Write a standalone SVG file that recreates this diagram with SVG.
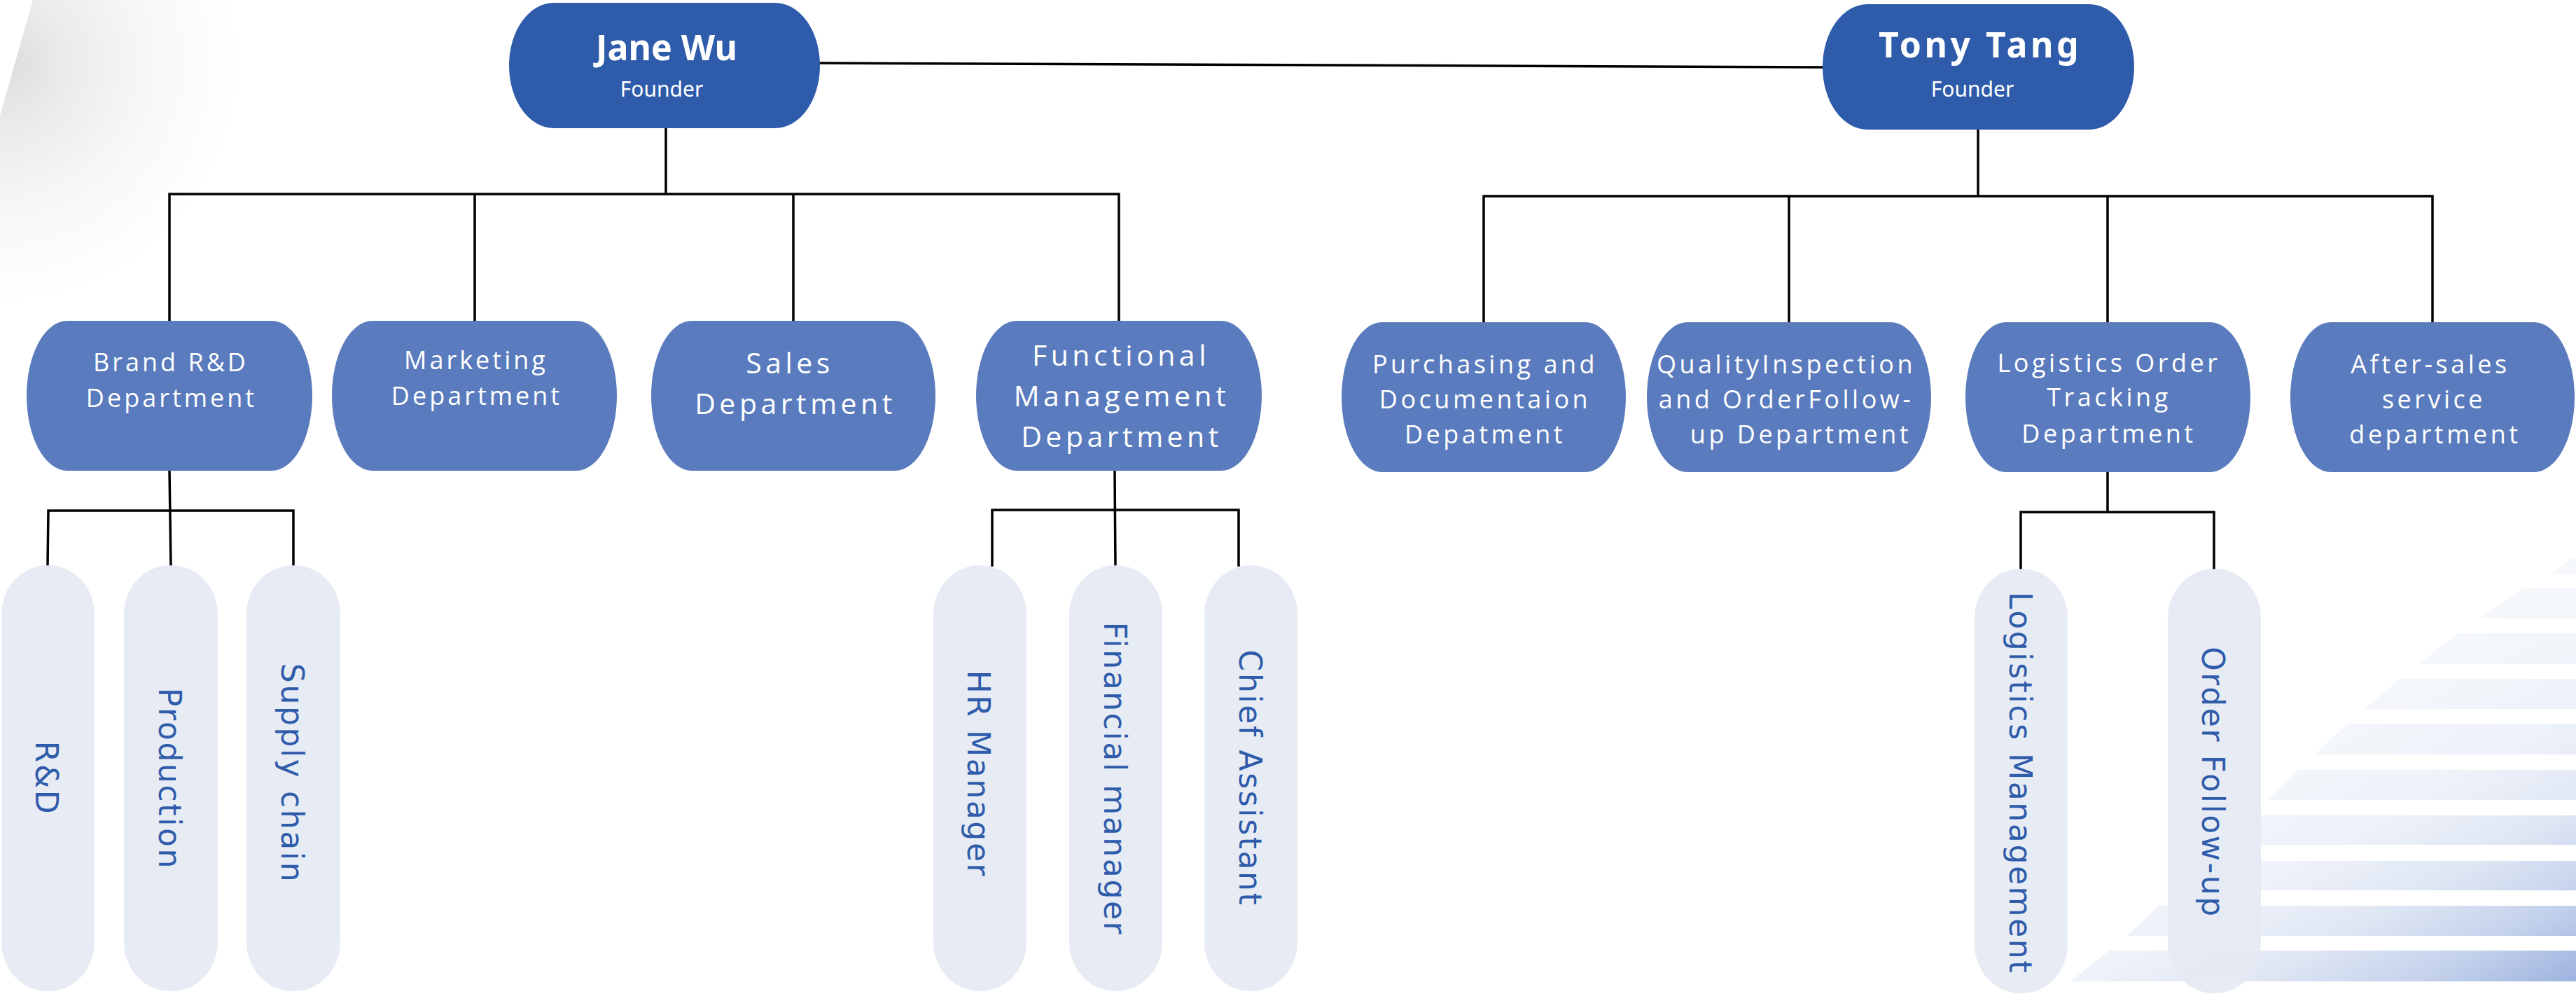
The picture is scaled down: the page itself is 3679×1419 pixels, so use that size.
<svg xmlns="http://www.w3.org/2000/svg" width="3679" height="1419" viewBox="0 0 3679 1419">
<defs>
<radialGradient id="grayFade" gradientUnits="userSpaceOnUse" cx="0" cy="90" r="380">
<stop offset="0" stop-color="#DCDCDC"/>
<stop offset="0.25" stop-color="#EBEBEB"/>
<stop offset="0.55" stop-color="#F7F7F7"/>
<stop offset="0.9" stop-color="#FFFFFF"/>
</radialGradient>
<linearGradient id="stripeFade" gradientUnits="userSpaceOnUse" x1="3400" y1="900" x2="3679" y2="1410">
<stop offset="0" stop-color="#F7F9FC"/>
<stop offset="0.4" stop-color="#EEF2F9"/>
<stop offset="0.6" stop-color="#E0E7F4"/>
<stop offset="0.8" stop-color="#C5D2EC"/>
<stop offset="1" stop-color="#9AB0DD"/>
</linearGradient>
<style>
.top{fill:#2E5BAA}
.dept{fill:#5A7BBD}
.sub{fill:#E4E9F3;fill-opacity:0.9}
.name{font-family:"Noto Sans","Open Sans",sans-serif;font-weight:700;font-size:50px;fill:#FFFFFF;text-anchor:middle}
.role{font-family:"Noto Sans","Open Sans",sans-serif;font-size:30px;fill:#FFFFFF;text-anchor:middle}
.dt{font-family:"Open Sans","Noto Sans",sans-serif;font-size:36px;letter-spacing:4px;fill:#FFFFFF;text-anchor:middle}
.dtl{font-family:"Open Sans","Noto Sans",sans-serif;font-size:41px;letter-spacing:5.5px;fill:#FFFFFF;text-anchor:middle}
.dtr{font-family:"Open Sans","Noto Sans",sans-serif;font-size:36px;letter-spacing:4.5px;fill:#FFFFFF;text-anchor:middle}
.st{font-family:"DejaVu Sans","Liberation Sans",sans-serif;font-size:44px;letter-spacing:2.6px;fill:#2E5BAA;text-anchor:middle}
.ln{fill:none;stroke:#000000;stroke-width:3.5;stroke-linecap:square}
</style>
</defs>

<g id="background">
<path d="M47,0 L900,0 L0,1100 L0,165 Z" fill="url(#grayFade)"/>
<g fill="url(#stripeFade)">
<polygon points="3672,797 3679,797 3679,819 3643,819"/>
<polygon points="3605,839 3679,839 3679,883 3540,883"/>
<polygon points="3510,904 3679,904 3679,948 3454,948"/>
<polygon points="3427,969 3679,969 3679,1012 3377,1012"/>
<polygon points="3353,1033 3679,1033 3679,1077 3306,1077"/>
<polygon points="3281,1099 3679,1099 3679,1142 3238,1142"/>
<polygon points="3214,1164 3679,1164 3679,1206 3173,1206"/>
<polygon points="3147,1229 3679,1229 3679,1271 3106,1271"/>
<polygon points="3083,1293 3679,1293 3679,1336 3038,1336"/>
<polygon points="3012,1357 3679,1357 3679,1401 2957,1401"/>
</g>
</g>

<g id="connectors">
<path class="ln" d="M1170,90 L2603,96"/>
<path class="ln" d="M951,183 L951,277 M242,277 L1598,277 M242,277 L242,458 M678,277 L678,458 M1133,277 L1133,458 M1598,277 L1598,458"/>
<path class="ln" d="M2825,185 L2825,280 M2119,280 L3474,280 M2119,280 L2119,460 M2555,280 L2555,460 M3010,280 L3010,460 M3474,280 L3474,460"/>
<path class="ln" d="M242,672 L244,807 M69,729 L419,729 M69,729 L68,807 M419,729 L419,807"/>
<path class="ln" d="M1592,672 L1593,807 M1417,728 L1769,728 M1417,728 L1417,807 M1769,728 L1769,807"/>
<path class="ln" d="M3010,674 L3010,731 M2886,731 L3162,731 M2886,731 L2886,812 M3162,731 L3162,812"/>
</g>

<g id="node-jane">
<rect class="top" x="727" y="4" width="444" height="179" rx="64" ry="89"/>
<text class="name" x="952" y="86">Jane Wu</text>
<text class="role" x="945" y="138">Founder</text>
</g>
<g id="node-tony">
<rect class="top" x="2603" y="6" width="445" height="179" rx="64" ry="89"/>
<text class="name" x="2828" y="82" style="letter-spacing:4.5px">Tony Tang</text>
<text class="role" x="2817" y="138">Founder</text>
</g>

<g id="node-brand">
<rect class="dept" x="38" y="458" width="408" height="214" rx="58" ry="107"/>
<text class="dt" x="244" y="530">Brand R&amp;D</text>
<text class="dt" x="245" y="581">Department</text>
</g>
<g id="node-marketing">
<rect class="dept" x="474" y="458" width="407" height="214" rx="58" ry="107"/>
<text class="dt" x="680" y="527">Marketing</text>
<text class="dt" x="681" y="578">Department</text>
</g>
<g id="node-sales">
<rect class="dept" x="930" y="458" width="406" height="214" rx="58" ry="107"/>
<text class="dtl" x="1128" y="533">Sales</text>
<text class="dtl" x="1136" y="591">Department</text>
</g>
<g id="node-functional">
<rect class="dept" x="1394" y="458" width="408" height="214" rx="58" ry="107"/>
<text class="dtl" x="1601" y="522">Functional</text>
<text class="dtl" x="1602" y="580">Management</text>
<text class="dtl" x="1602" y="638">Department</text>
</g>
<g id="node-purchasing">
<rect class="dept" x="1916" y="460" width="406" height="214" rx="58" ry="107"/>
<text class="dtr" x="2121" y="533">Purchasing and</text>
<text class="dtr" x="2121" y="583">Documentaion</text>
<text class="dtr" x="2121" y="633">Depatment</text>
</g>
<g id="node-quality">
<rect class="dept" x="2352" y="460" width="406" height="214" rx="58" ry="107"/>
<text class="dtr" x="2551" y="533">QualityInspection</text>
<text class="dtr" x="2551" y="583">and OrderFollow-</text>
<text class="dtr" x="2572" y="633">up Department</text>
</g>
<g id="node-logistics">
<rect class="dept" x="2807" y="460" width="407" height="214" rx="58" ry="107"/>
<text class="dtr" x="3012" y="531">Logistics Order</text>
<text class="dtr" x="3012" y="580">Tracking</text>
<text class="dtr" x="3012" y="632">Department</text>
</g>
<g id="node-aftersales">
<rect class="dept" x="3271" y="460" width="406" height="214" rx="58" ry="107"/>
<text class="dtr" x="3471" y="533">After-sales</text>
<text class="dtr" x="3476" y="583">service</text>
<text class="dtr" x="3478" y="633">department</text>
</g>

<g id="node-rd">
<rect class="sub" x="2" y="807" width="133" height="608" rx="66" ry="70"/>
<text class="st" transform="translate(67,1111) rotate(90)" x="0" y="16">R&amp;D</text>
</g>
<g id="node-production">
<rect class="sub" x="177" y="807" width="134" height="608" rx="66" ry="70"/>
<text class="st" transform="translate(243,1112) rotate(90)" x="0" y="16">Production</text>
</g>
<g id="node-supply">
<rect class="sub" x="352" y="807" width="134" height="608" rx="66" ry="70"/>
<text class="st" transform="translate(418,1104) rotate(90)" x="0" y="16">Supply chain</text>
</g>
<g id="node-hr">
<rect class="sub" x="1333" y="807" width="133" height="608" rx="66" ry="70"/>
<text class="st" transform="translate(1398,1105) rotate(90)" x="0" y="16">HR Manager</text>
</g>
<g id="node-financial">
<rect class="sub" x="1527" y="807" width="133" height="608" rx="66" ry="70"/>
<text class="st" transform="translate(1593,1112) rotate(90)" x="0" y="16">Financial manager</text>
</g>
<g id="node-chief">
<rect class="sub" x="1720" y="807" width="133" height="608" rx="66" ry="70"/>
<text class="st" transform="translate(1786,1111) rotate(90)" x="0" y="16">Chief Assistant</text>
</g>
<g id="node-logmgmt">
<rect class="sub" x="2820" y="812" width="133" height="606" rx="66" ry="70"/>
<text class="st" transform="translate(2886,1118) rotate(90)" x="0" y="16">Logistics Management</text>
</g>
<g id="node-order">
<rect class="sub" x="3096" y="812" width="133" height="606" rx="66" ry="70"/>
<text class="st" transform="translate(3161,1117) rotate(90)" x="0" y="16">Order Follow-up</text>
</g>
</svg>
